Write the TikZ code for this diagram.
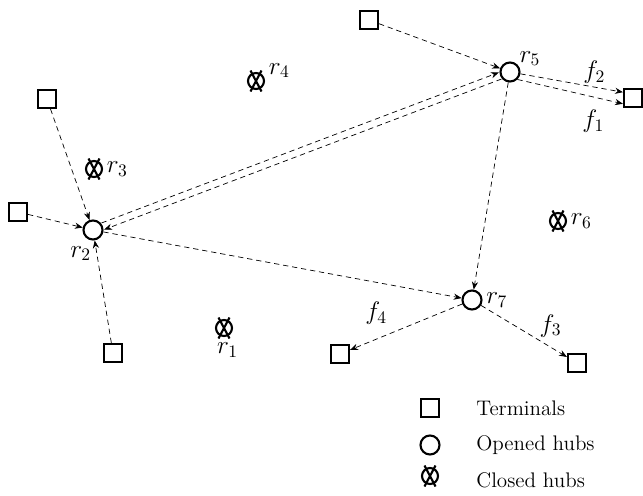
\documentclass[tikz,border=0pt]{standalone}
\usepackage{amsmath}
\usepackage{amssymb}
\usepackage{tikz}
\usetikzlibrary{arrows.meta,positioning}

\tikzset{
  terminal/.style={draw, very thick, rectangle, minimum size=0.36cm, inner sep=0pt},
  openhub/.style={draw, very thick, circle, minimum size=0.38cm, inner sep=0pt},
  closedhub/.style={draw, very thick, circle, minimum size=0.32cm, inner sep=0pt},
  link/.style={thin, dash pattern=on 3pt off 2.2pt, -{Stealth[length=4.5pt,width=3.5pt]}},
  lbl/.style={inner sep=1pt, font=\Large},
  keytext/.style={anchor=west, inner sep=0pt, font=\large},
}

\begin{document}
\begin{tikzpicture}[x=0.02cm, y=-0.02cm]
\useasboundingbox (0,0) rectangle (643,495);

% terminals
\node[terminal] (t1) at (47,99) {};
\node[terminal] (t2) at (18,212) {};
\node[terminal] (t3) at (113,353) {};
\node[terminal] (t4) at (369,20) {};
\node[terminal] (t5) at (633,98) {};
\node[terminal] (t6) at (340,354) {};
\node[terminal] (t7) at (577,363) {};

% hubs
\node[openhub] (r2) at (93,230) {};
\node[openhub] (r5) at (510,72) {};
\node[openhub] (r7) at (472,300) {};
\node[closedhub] (r1) at (224,328) {};
\node[closedhub] (r3) at (94,169) {};
\node[closedhub] (r4) at (256,81) {};
\node[closedhub] (r6) at (558,221) {};

% hub names
\node[lbl, right=1pt of r4, yshift=6pt] (nr4) {$r_4$};
\node[lbl, right=1pt of r3] (nr3) {$r_3$};
\node[lbl, below=2pt of r1, xshift=2pt] (nr1) {$r_1$};
\node[lbl, right=1pt of r6] (nr6) {$r_6$};
\node[lbl, above right=-2pt and 0pt of r5] (nr5) {$r_5$};
\node[lbl, below=2pt of r2, xshift=-7pt] (nr2) {$r_2$};
\node[lbl, right=1pt of r7] (nr7) {$r_7$};

% flows
\draw[link] (t1) -- (r2);
\draw[link] (t2) -- (r2);
\draw[link] (t3) -- (r2);
\draw[link] (t4) -- (r5);
\draw[link, transform canvas={shift={(-1.3,-3.3)}}] (r2) -- (r5);
\draw[link, transform canvas={shift={(1.3,3.3)}}] (r5) -- (r2);
\draw[link] (r2) -- (r7);
\draw[link] (r5) -- (r7);
\draw[link] (r5.-10) -- (t5.150) node[lbl, pos=.72, above=1pt] (f2) {$f_2$};
\draw[link] (r5.-45) -- (t5.210) node[lbl, pos=.72, below=6pt] (f1) {$f_1$};
\draw[link] (r7) -- (t6) node[lbl, pos=.72, above=6pt, xshift=-3pt] (f4) {$f_4$};
\draw[link] (r7) -- (t7) node[lbl, pos=.72, above right=2pt and -3pt] (f3) {$f_3$};

% legend
\node[terminal] (kt) at (430,408) {};
\node[openhub] (ko) at (430,445) {};
\node[closedhub] (kc) at (430,476) {};
\node[keytext] (ktxt) at (476,408) {Terminals};
\node[keytext] (kotxt) at (476,445) {Opened hubs};
\node[keytext] (kctxt) at (476,480) {Closed hubs};

% cross on closed hubs
\foreach \h in {r1,r3,r4,r6,kc}
  \draw[very thick] ([shift={(-5.5,-10.5)}]\h.center) -- ([shift={(5.5,10.5)}]\h.center)
                    ([shift={(5.5,-10.5)}]\h.center) -- ([shift={(-5.5,10.5)}]\h.center);
\end{tikzpicture}
\end{document}
